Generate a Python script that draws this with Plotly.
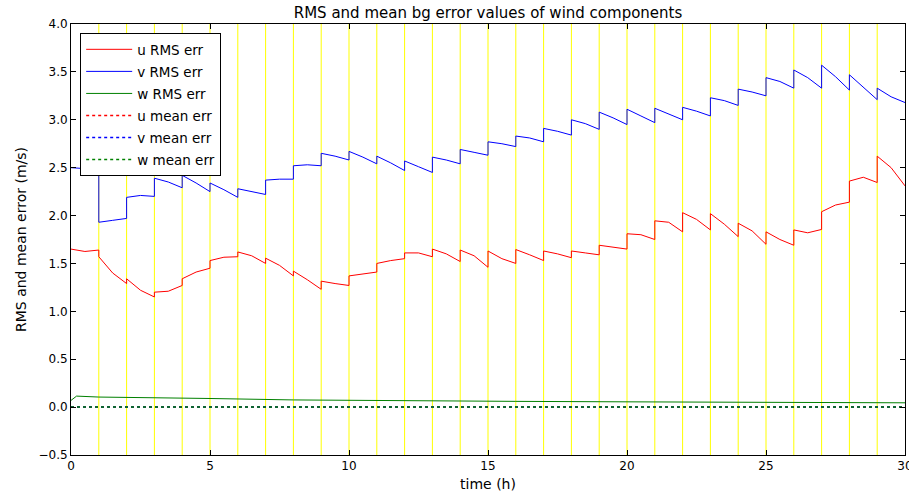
import plotly.graph_objects as go

# Hourly assimilation windows: value at the start, middle and end of each hour
hours = list(range(30))

u_start = [1.65, 1.57, 1.34, 1.20, 1.34, 1.53, 1.62, 1.555, 1.42, 1.315,
           1.37, 1.50, 1.61, 1.65, 1.64, 1.63, 1.645, 1.63, 1.63, 1.69,
           1.81, 1.945, 2.03, 2.02, 1.92, 1.83, 1.85, 2.04, 2.36, 2.62]
u_mid = [1.625, 1.40, 1.22, 1.21, 1.41, 1.565, 1.58, 1.48, 1.33, 1.29,
         1.39, 1.53, 1.61, 1.60, 1.58, 1.55, 1.59, 1.60, 1.61, 1.67,
         1.80, 1.93, 1.96, 1.91, 1.84, 1.75, 1.82, 2.11, 2.40, 2.50]
u_end = [1.64, 1.29, 1.15, 1.27, 1.45, 1.57, 1.50, 1.37, 1.23, 1.27,
         1.41, 1.55, 1.57, 1.52, 1.46, 1.50, 1.53, 1.56, 1.59, 1.65,
         1.75, 1.83, 1.85, 1.78, 1.70, 1.69, 1.855, 2.14, 2.345, 2.31]

v_start = [2.50, 1.93, 2.19, 2.39, 2.42, 2.34, 2.28, 2.37, 2.52, 2.65,
           2.67, 2.62, 2.57, 2.61, 2.69, 2.77, 2.83, 2.91, 3.00, 3.08,
           3.11, 3.12, 3.13, 3.23, 3.32, 3.44, 3.52, 3.57, 3.47, 3.33]
v_mid = [2.49, 1.95, 2.21, 2.35, 2.34, 2.27, 2.25, 2.38, 2.53, 2.62,
         2.61, 2.55, 2.51, 2.58, 2.66, 2.75, 2.81, 2.88, 2.96, 3.02,
         3.04, 3.06, 3.09, 3.20, 3.29, 3.40, 3.44, 3.45, 3.34, 3.24]
v_end = [2.49, 1.97, 2.20, 2.29, 2.25, 2.19, 2.22, 2.38, 2.52, 2.58,
         2.54, 2.47, 2.45, 2.54, 2.63, 2.72, 2.77, 2.84, 2.90, 2.95,
         2.97, 3.00, 3.04, 3.15, 3.25, 3.33, 3.33, 3.31, 3.21, 3.18]

w_time = [0, 0.2, 1, 3, 5, 8, 12, 16, 20, 25, 30]
w_rms = [0.07, 0.115, 0.105, 0.10, 0.09, 0.075, 0.065, 0.06, 0.055, 0.05, 0.045]

mean_time = [0, 10, 20, 30]
u_mean = [0.0, 0.0, 0.0, 0.0]
v_mean = [0.0, 0.0, 0.0, 0.0]
w_mean = [0.0, 0.0, 0.0, 0.0]

update_hours = list(range(1, 30))


def windowed(start, mid, end):
    xs, ys = [], []
    for h, a, b, c in zip(hours, start, mid, end):
        xs += [h, h + 0.5, h + 1]
        ys += [a, b, c]
    return xs, ys


fig = go.Figure()

ux, uy = windowed(u_start, u_mid, u_end)
vx, vy = windowed(v_start, v_mid, v_end)

series = [
    (ux, uy, "u RMS err", "#ff0000", "solid", 1),
    (vx, vy, "v RMS err", "#0000ff", "solid", 1),
    (w_time, w_rms, "w RMS err", "#008000", "solid", 1),
    (mean_time, u_mean, "u mean err", "#ff0000", "dot", 1.5),
    (mean_time, v_mean, "v mean err", "#0000ff", "dot", 1.5),
    (mean_time, w_mean, "w mean err", "#008000", "dot", 1.5),
]
for x, y, name, color, dash, width in series:
    fig.add_trace(go.Scatter(x=x, y=y, mode="lines", name=name, legendgroup=name,
                             line=dict(color=color, width=width, dash=dash)))

for h in update_hours:
    fig.add_shape(type="line", x0=h, x1=h, y0=0, y1=1, xref="x", yref="paper",
                  line=dict(color="#ffff00", width=1), layer="below")

fig.update_layout(
    width=909, height=494,
    margin=dict(l=71, r=4, t=24, b=39),
    paper_bgcolor="white", plot_bgcolor="white",
    font=dict(family="DejaVu Sans", size=12, color="black"),
    title=dict(text="RMS and mean bg error values of wind components",
               x=0.5, xref="paper", xanchor="center", y=0.975, yanchor="middle",
               font=dict(size=15)),
    showlegend=True,
    legend=dict(x=0.011, y=0.979, xanchor="left", yanchor="top",
                bgcolor="white", bordercolor="black", borderwidth=1,
                font=dict(size=13.5), traceorder="grouped", tracegroupgap=1.5,
                itemwidth=46),
)

fig.update_xaxes(range=[0, 30], dtick=5, tick0=0, showgrid=False, zeroline=False,
                 showline=True, linecolor="black", linewidth=1, mirror="ticks",
                 ticks="inside", ticklen=5, tickcolor="black",
                 ticklabeloverflow="allow", automargin=False,
                 title=dict(text="time (h)", standoff=6))
fig.update_yaxes(range=[-0.5, 4.0], dtick=0.5, tick0=0, tickformat=".1f",
                 showgrid=False, zeroline=False,
                 showline=True, linecolor="black", linewidth=1, mirror="ticks",
                 ticks="inside", ticklen=5, tickcolor="black",
                 title=dict(text="RMS and mean error (m/s)", standoff=8))

fig.write_html("out.html")
